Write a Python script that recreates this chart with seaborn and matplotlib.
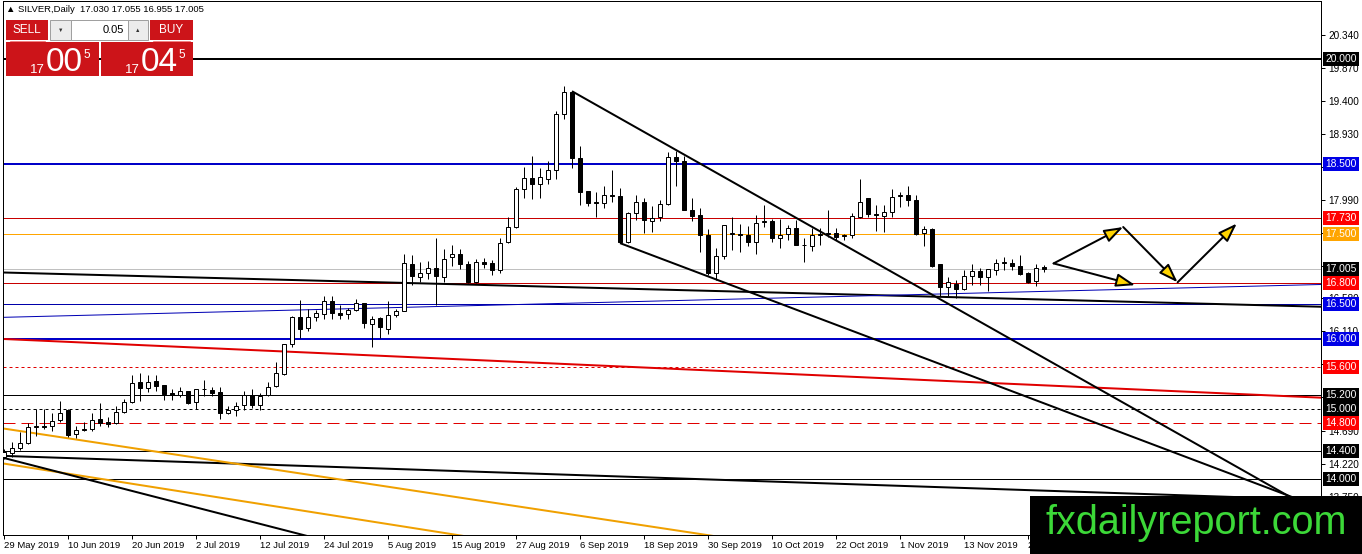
import numpy as np
import seaborn as sns
import matplotlib.pyplot as plt
from matplotlib.patches import Rectangle, FancyArrowPatch

# daily OHLC, SILVER, bar 0 = 29 May 2019
opens = [14.32, 14.37, 14.45, 14.52, 14.74, 14.76, 14.76, 14.85, 14.98, 14.64,
         14.70, 14.72, 14.86, 14.81, 14.80, 14.96, 15.10, 15.38, 15.30, 15.40,
         15.34, 15.23, 15.20, 15.26, 15.10, 15.28, 15.27, 15.24, 14.94, 14.98,
         15.06, 15.20, 15.06, 15.20, 15.33, 15.50, 15.93, 16.31, 16.16, 16.31,
         16.36, 16.55, 16.37, 16.36, 16.42, 16.51, 16.21, 16.30, 16.15, 16.35,
         16.40, 17.07, 16.89, 16.94, 17.01, 16.89, 17.17, 17.22, 17.07, 16.82,
         17.10, 17.08, 16.99, 17.38, 17.60, 18.14, 18.30, 18.22, 18.28, 18.42,
         19.21, 19.53, 18.59, 18.11, 17.96, 17.95, 18.06, 18.04, 17.38, 17.80,
         17.96, 17.69, 17.74, 17.93, 18.60, 18.55, 17.84, 17.77, 17.48, 16.94,
         17.18, 17.50, 17.50, 17.48, 17.38, 17.67, 17.68, 17.44, 17.50, 17.59,
         17.35, 17.33, 17.49, 17.50, 17.51, 17.47, 17.48, 17.75, 18.02, 17.79,
         17.76, 17.82, 18.05, 18.06, 17.98, 17.51, 17.57, 17.07, 16.74, 16.79,
         16.71, 16.90, 16.97, 16.89, 16.99, 17.09, 17.09, 17.04, 16.95, 16.83,
         17.03]
closes = [14.38, 14.45, 14.51, 14.74, 14.76, 14.75, 14.83, 14.95, 14.63, 14.70,
          14.72, 14.85, 14.80, 14.79, 14.96, 15.10, 15.37, 15.30, 15.39, 15.33,
          15.22, 15.20, 15.26, 15.09, 15.28, 15.29, 15.23, 14.94, 14.99, 15.05,
          15.20, 15.06, 15.19, 15.32, 15.51, 15.93, 16.31, 16.15, 16.31, 16.37,
          16.55, 16.37, 16.34, 16.42, 16.52, 16.23, 16.28, 16.17, 16.35, 16.40,
          17.09, 16.90, 16.94, 17.02, 16.90, 17.15, 17.22, 17.07, 16.81, 17.10,
          17.07, 16.99, 17.37, 17.60, 18.14, 18.30, 18.21, 18.31, 18.42, 19.21,
          19.53, 18.59, 18.10, 17.95, 17.95, 18.06, 18.05, 17.39, 17.80, 17.96,
          17.70, 17.73, 17.93, 18.60, 18.55, 17.84, 17.76, 17.48, 16.94, 17.18,
          17.63, 17.52, 17.49, 17.38, 17.66, 17.68, 17.45, 17.49, 17.59, 17.35,
          17.34, 17.49, 17.50, 17.51, 17.46, 17.48, 17.76, 17.96, 17.78, 17.77,
          17.81, 18.03, 18.06, 17.98, 17.50, 17.57, 17.05, 16.74, 16.81, 16.71,
          16.90, 16.97, 16.89, 17.00, 17.09, 17.10, 17.05, 16.93, 16.82, 17.01,
          17.005]
highs = [14.43, 14.53, 14.67, 14.80, 15.00, 15.00, 14.95, 15.11, 15.00, 14.76,
         14.81, 14.95, 15.09, 14.88, 15.05, 15.15, 15.49, 15.52, 15.48, 15.48,
         15.34, 15.29, 15.31, 15.26, 15.29, 15.41, 15.31, 15.31, 15.05, 15.10,
         15.26, 15.29, 15.23, 15.38, 15.67, 15.93, 16.33, 16.56, 16.43, 16.42,
         16.62, 16.62, 16.48, 16.45, 16.57, 16.52, 16.33, 16.31, 16.55, 16.43,
         17.21, 17.20, 17.10, 17.12, 17.45, 17.28, 17.35, 17.28, 17.11, 17.15,
         17.16, 17.13, 17.44, 17.75, 18.17, 18.46, 18.61, 18.44, 18.54, 19.26,
         19.62, 19.54, 18.76, 18.11, 18.10, 18.19, 18.42, 18.16, 17.81, 18.06,
         18.02, 17.90, 17.98, 18.67, 18.68, 18.62, 18.01, 17.87, 17.57, 17.30,
         17.63, 17.75, 17.65, 17.61, 17.77, 17.91, 17.72, 17.71, 17.63, 17.70,
         17.44, 17.58, 17.58, 17.84, 17.58, 17.50, 17.80, 18.28, 18.02, 17.91,
         17.91, 18.14, 18.10, 18.19, 18.06, 17.61, 17.58, 17.07, 16.89, 16.85,
         16.99, 17.07, 17.01, 17.00, 17.14, 17.17, 17.14, 17.20, 16.96, 17.07,
         17.055]
lows = [14.29, 14.31, 14.42, 14.50, 14.62, 14.72, 14.69, 14.81, 14.60, 14.59,
        14.68, 14.69, 14.76, 14.74, 14.79, 14.95, 15.09, 15.12, 15.25, 15.26,
        15.13, 15.13, 15.17, 15.07, 15.00, 15.18, 15.18, 14.86, 14.93, 14.90,
        14.99, 15.02, 14.99, 15.18, 15.32, 15.48, 15.88, 16.01, 16.12, 16.26,
        16.28, 16.28, 16.28, 16.29, 16.40, 16.16, 15.88, 16.02, 16.07, 16.31,
        16.40, 16.77, 16.81, 16.86, 16.49, 16.82, 17.05, 17.00, 16.80, 16.80,
        17.01, 16.92, 16.94, 17.37, 17.58, 18.02, 18.00, 18.02, 18.21, 18.29,
        19.14, 18.44, 17.91, 17.90, 17.74, 17.87, 17.96, 17.37, 17.37, 17.70,
        17.51, 17.53, 17.69, 17.91, 18.19, 17.84, 17.68, 17.25, 16.91, 16.84,
        17.14, 17.27, 17.25, 17.33, 17.22, 17.60, 17.38, 17.30, 17.41, 17.34,
        17.10, 17.26, 17.34, 17.46, 17.41, 17.41, 17.44, 17.73, 17.75, 17.55,
        17.53, 17.75, 17.89, 17.90, 17.49, 17.33, 17.03, 16.61, 16.61, 16.58,
        16.70, 16.77, 16.77, 16.68, 16.91, 16.99, 16.99, 16.92, 16.80, 16.76,
        16.955]

date_bars = [0, 8, 16, 24, 32, 40, 48, 56, 64, 72, 80, 88, 96, 104, 112, 120, 128]
date_labels = ["29 May 2019", "10 Jun 2019", "20 Jun 2019", "2 Jul 2019", "12 Jul 2019",
               "24 Jul 2019", "5 Aug 2019", "15 Aug 2019", "27 Aug 2019", "6 Sep 2019",
               "18 Sep 2019", "30 Sep 2019", "10 Oct 2019", "22 Oct 2019", "1 Nov 2019",
               "13 Nov 2019", "25 Nov 2019"]
price_ticks = [13.75, 14.22, 14.69, 15.17, 15.64, 16.11, 16.58, 17.05, 17.52,
               17.99, 18.46, 18.93, 19.40, 19.87, 20.34]
# these scale labels sit fully under a level box, so they are not visible
hidden_ticks = [15.17, 15.64, 17.05, 17.52, 18.46]

# horizontal levels: value, line colour, width(px), style, label box colour
levels = [
    (20.000, "black", 2, "-", "black"),
    (18.500, "#0000c8", 2, "-", "#0000e6"),
    (17.730, "#c80000", 1, "-", "#ff0000"),
    (17.500, "#ffa500", 1, "-", "#ffa500"),
    (17.005, "#c0c0c0", 1, "-", "black"),
    (16.800, "#c80000", 1, "-", "#ff0000"),
    (16.500, "#0000aa", 1, "-", "#0000e6"),
    (16.000, "#0000c8", 2, "-", "#0000e6"),
    (15.600, "#e00000", 1, (0, (3, 3)), "#ff0000"),
    (15.200, "black", 1, "-", "black"),
    (15.000, "black", 1, (0, (3, 3)), "black"),
    (14.800, "#e00000", 1, (0, (12, 6)), "#ff0000"),
    (14.400, "black", 1, "-", "black"),
    (14.000, "black", 1, "-", "black"),
]

# drawn trend lines: (bar, price) end points, colour, width(px)
trend_lines = [
    ([0, 165], [16.95, 16.46], "black", 2),
    ([0, 165], [16.00, 15.16], "#e00000", 2),
    ([0, 165], [16.31, 16.78], "#0000b4", 1),
    ([0, 165], [14.33, 13.70], "black", 2),
    ([0, 100], [14.72, 12.99], "#f0a000", 2),
    ([0, 100], [14.22, 12.42], "#f0a000", 2),
    ([0, 100], [14.30, 11.36], "black", 2),
    ([71, 165], [19.54, 13.47], "black", 2),
    ([77, 165], [17.37, 13.57], "black", 2),
]

# forecast arrows (bar, price)
arrow_start = [(131.2, 17.08), (131.2, 17.08), (139.9, 17.60), (146.7, 16.81)]
arrow_end = [(139.9, 17.60), (141.4, 16.77), (146.7, 16.81), (154.1, 17.65)]

W, H = 1362, 554
PX = 0.72  # one pixel in points at dpi 100

sns.set_theme(style="white")
plt.rcParams["font.family"] = ["Liberation Sans", "DejaVu Sans"]

fig = plt.figure(figsize=(W / 100, H / 100), dpi=100)
ax = fig.add_axes([3 / W, 19 / H, (1321 - 3) / W, (535 - 1) / H])
ax.set_facecolor("white")
ax.set_xlim(-0.125, 164.625)
ax.set_ylim(13.20, 20.829)

x = np.arange(len(opens))
o = np.array(opens)
c = np.array(closes)

# horizontal levels and trend lines
for val, col, lw, ls, _ in levels:
    ax.axhline(val, color=col, lw=lw * PX, ls=ls, zorder=1)
for xs, ys, col, lw in trend_lines:
    ax.plot(xs, ys, color=col, lw=lw * PX, zorder=2, solid_capstyle="butt")

# candles
ax.vlines(x, lows, highs, color="black", lw=PX, zorder=3)
bottoms = np.minimum(o, c)
heights = np.maximum(np.abs(c - o), 0.004)
fills = np.where(c >= o, "white", "black")
ax.bar(x, heights, bottom=bottoms, width=0.55, color=fills,
       edgecolor="black", linewidth=PX, zorder=4)

# arrows
for (x0, y0), (x1, y1) in zip(arrow_start, arrow_end):
    ax.add_patch(FancyArrowPatch((x0, y0), (x1, y1),
                                 arrowstyle="-|>,head_length=1.15,head_width=0.4",
                                 mutation_scale=10, fc="#ffd400", ec="black",
                                 lw=2 * PX, zorder=6, shrinkA=0, shrinkB=0))

# axes look
for s in ax.spines.values():
    s.set_color("black")
    s.set_linewidth(PX)
ax.yaxis.tick_right()
ax.set_yticks(price_ticks)
ax.set_yticklabels(["" if v in hidden_ticks else f"{v:.3f}" for v in price_ticks])
ax.set_xticks(date_bars)
ax.set_xticklabels(date_labels, ha="left")
ax.tick_params(axis="y", direction="out", length=3, width=PX, pad=2,
               labelsize=7.2, colors="black", right=True)
ax.tick_params(axis="x", direction="out", length=3, width=PX, pad=1,
               labelsize=6.8, colors="black", bottom=True)
ax.grid(False)

# level labels on the price scale
for val, _, _, _, box in levels:
    ax.annotate(f"{val:.3f}", xy=(1.0, val), xycoords=("axes fraction", "data"),
                xytext=(3.2, 0), textcoords="offset points", ha="left", va="center",
                fontsize=7.4, color="white", zorder=10, annotation_clip=False,
                bbox=dict(boxstyle="square,pad=0.2", fc=box, ec="none"))

# overlay in pixel coordinates
ov = fig.add_axes([0, 0, 1, 1])
ov.set_xlim(0, W)
ov.set_ylim(H, 0)
ov.axis("off")
ov.patch.set_alpha(0)

ov.text(6, 10, "\u25b2 SILVER,Daily  17.030 17.055 16.955 17.005", fontsize=6.8,
        va="center", ha="left", color="black")

red = "#cc1419"
ov.add_patch(Rectangle((6, 20), 42, 20, fc=red, ec="none"))
ov.add_patch(Rectangle((150, 20), 43, 20, fc=red, ec="none"))
ov.add_patch(Rectangle((50, 20), 21, 20, fc="#ececec", ec="#a0a0a0", lw=PX))
ov.add_patch(Rectangle((71, 20), 57, 20, fc="white", ec="#a0a0a0", lw=PX))
ov.add_patch(Rectangle((128, 20), 20, 20, fc="#ececec", ec="#a0a0a0", lw=PX))
ov.plot([10, 45], [41, 41], color="#f08080", lw=PX)
ov.plot([153, 190], [41, 41], color="#f08080", lw=PX)
ov.text(27, 30, "SELL", color="white", fontsize=8.5, ha="center", va="center")
ov.text(171, 30, "BUY", color="white", fontsize=8.5, ha="center", va="center")
ov.text(60.5, 30, "\u25bc", color="#333333", fontsize=4, ha="center", va="center")
ov.text(138, 30, "\u25b2", color="#333333", fontsize=4, ha="center", va="center")
ov.text(124, 30, "0.05", color="black", fontsize=8, ha="right", va="center")

ov.add_patch(Rectangle((6, 42), 93, 34, fc=red, ec="none"))
ov.add_patch(Rectangle((101, 42), 92, 34, fc=red, ec="none"))
for x0, big in [(30, "00"), (125, "04")]:
    ov.text(x0, 73, "17", color="white", fontsize=9.5, ha="left", va="baseline")
    ov.text(x0 + 16, 71, big, color="white", fontsize=24, ha="left", va="baseline")
    ov.text(x0 + 53, 58, "5", color="white", fontsize=8.5, ha="left", va="baseline")

# watermark
ov.add_patch(Rectangle((1030, 496), W - 1030, H - 496, fc="black", ec="none"))
ov.text(1196, 523, "fxdailyreport.com", color="#3cd838", fontsize=28.5,
        ha="center", va="center")

fig.savefig("out.png", dpi=100)
